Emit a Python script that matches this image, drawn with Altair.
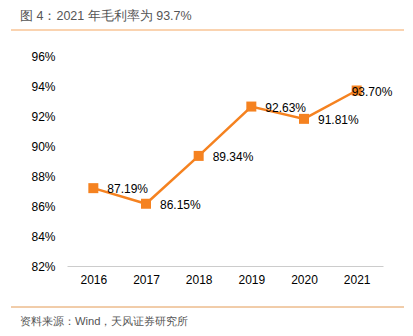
import altair as alt
import pandas as pd

years = ["2016", "2017", "2018", "2019", "2020", "2021"]
margins = [87.19, 86.15, 89.34, 92.63, 91.81, 93.70]
labels = ["87.19%", "86.15%", "89.34%", "92.63%", "91.81%", "93.70%"]
y_ticks = [82, 84, 86, 88, 90, 92, 94, 96]

title_text = "图 4：2021 年毛利率为 93.7%"
source_text = "资料来源：Wind，天风证券研究所"

df = pd.DataFrame({"year": years, "margin": margins, "label": labels})

ORANGE = "#F58220"
FONT = "Liberation Sans"
W, H = 316, 210

x = alt.X("year:N", sort=years, title=None,
          scale=alt.Scale(type="point", padding=0.5),
          axis=alt.Axis(labelAngle=0, ticks=False, domainColor="#cccccc",
                        labelFont=FONT, labelFontSize=12, labelColor="#000000",
                        labelPadding=8))
y = alt.Y("margin:Q", title=None,
          scale=alt.Scale(domain=[82, 96], nice=False, zero=False),
          axis=alt.Axis(values=y_ticks, labelExpr="datum.value + '%'", grid=False,
                        domain=False, ticks=False, labelFont=FONT, labelFontSize=12,
                        labelColor="#000000", labelPadding=12))

base = alt.Chart(df)
line = base.mark_line(color=ORANGE, strokeWidth=2.5).encode(x=x, y=y)
pts = base.mark_point(shape="square", filled=True, opacity=1, size=100,
                      color=ORANGE).encode(x=x, y=y)
txt = base.transform_filter("datum.year != '2021'").mark_text(
    align="left", baseline="middle", dx=14, dy=1, font=FONT, fontSize=12,
    color="#000000").encode(x=x, y=y, text="label:N")
txt2 = base.transform_filter("datum.year == '2021'").mark_text(
    align="left", baseline="middle", dx=-5, dy=1, font=FONT, fontSize=12,
    color="#000000").encode(x=x, y=y, text="label:N")

one = pd.DataFrame({"a": [0]})
ann = alt.Chart(one)
title = ann.mark_text(align="left", baseline="middle", font=FONT, fontSize=12.5,
                      color="#555555", text=title_text).encode(
    x=alt.value(-47), y=alt.value(-40))
top_rule = ann.mark_rule(color="#F9C596", strokeWidth=1.5).encode(
    x=alt.value(-56), x2=alt.value(337), y=alt.value(-26))
bot_rule = ann.mark_rule(color="#E39A55", strokeWidth=1).encode(
    x=alt.value(-56), x2=alt.value(337), y=alt.value(251))
source = ann.mark_text(align="left", baseline="middle", font=FONT, fontSize=11.2,
                       color="#555555", text=source_text).encode(
    x=alt.value(-47), y=alt.value(266))

chart = alt.layer(top_rule, bot_rule, title, source, line, pts, txt, txt2).properties(
    width=W, height=H,
    background="white",
    autosize=alt.AutoSizeParams(type="none"),
    padding={"left": 67, "top": 56, "right": 30, "bottom": 70},
).configure_view(stroke=None)

chart.save("out.html", embed_options={"renderer": "svg", "actions": False})
